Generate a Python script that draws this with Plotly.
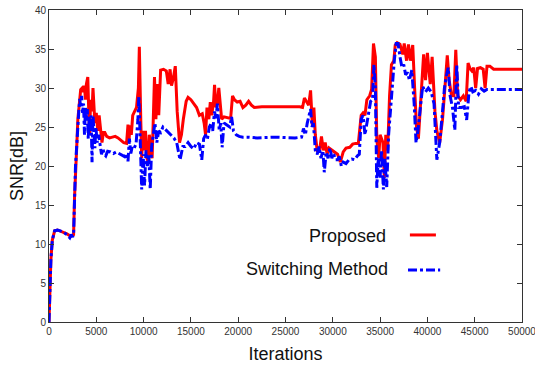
import plotly.graph_objects as go

# Proposed (red)
prop_x = [0,100,200,350,600,900,1400,1900,2300,2600,2700,2800,2950,3050,3200,3350,3500,3650,3750,3850,3950,4100,4200,4300,4400,4550,4650,4750,4850,5000,5150,5300,5450,5600,5750,5900,6100,6400,6700,7000,7300,7600,7900,8200,8350,8450,8550,8700,8850,9050,9250,9450,9550,9700,9800,9900,10050,10200,10350,10500,10600,10750,10900,11000,11150,11300,11450,11600,11800,12100,12400,12600,12800,12950,13150,13350,13550,13800,14000,14200,14500,14700,15000,15300,15600,15900,16200,16400,16550,16700,16900,17050,17200,17400,17500,17650,17800,17950,18100,18250,18500,18900,19200,19400,19600,19900,20200,20500,20800,21100,21400,21700,22500,24000,25500,26500,26800,27000,27200,27450,27650,27850,28000,28150,28350,28600,28800,29000,29200,29400,29600,29900,30200,30500,30800,31100,31400,31800,32100,32400,32700,33000,33200,33400,33600,33900,34100,34300,34500,34650,34850,35000,35300,35450,35600,35800,36000,36200,36450,36600,36800,37100,37400,37550,37800,38000,38200,38450,38650,38850,39050,39350,39600,39800,40000,40300,40500,40800,41000,41300,41600,41850,42100,42300,42550,42800,43000,43200,43500,43800,44100,44300,44500,44700,44900,45100,45300,45600,45900,46100,46300,46600,47000,50000]
prop_y = [0,4,8,10.5,11.7,11.8,11.6,11.3,11.0,11.2,16,20,23,26,28,29.8,30,29.5,30.3,28.5,30.5,31.4,27,24,28.5,27,30,27,25.5,26.8,24.5,26.5,24.2,23,24.3,24.3,23.8,23.6,23.7,23.8,23.6,23.3,23.0,22.9,25.3,23,25.2,24,26.5,27,27.5,30,35.3,26,21,24.5,22,24.5,21,20.5,24,22.5,21,25,31.4,26,30.5,26.5,32.3,32.4,32.2,30.5,32.4,30.3,31.3,32.8,27,23,24,26,28.3,28.8,28.5,28,27.5,26.5,26.7,25.5,24,27.5,26,28.2,26.5,28.3,30.4,27.5,28,30,28.3,26,26.3,26.2,26.1,29,28.5,28.2,28.3,27.5,27.8,28.3,27.8,27.5,27.6,27.6,27.6,27.6,27.5,28.7,28.3,27.8,29.7,25,27.5,24,22,22,23.8,22,23,21.5,22.3,22,21.8,21.5,20.5,21.8,22.3,22.4,22.8,22.9,22.9,26.5,26.8,26.5,28.5,29,29.8,35.7,34,23.5,21,24,23,18.5,24,22,29,33,33.5,35.5,35.8,35.6,34.3,35.7,33.5,35.6,33.5,35.5,30,25,23.5,29,34.3,31,34.5,30.5,34,27,24.5,23,26,30,34.2,31,29,29,34.9,29,28.5,29,28.3,33.2,32.5,32.2,32.6,30,32.5,32.6,32.4,30,32.8,32.8,32.4,32.4]

# Switching Method (blue)
sw_x = [0,100,200,350,600,900,1400,1900,2200,2350,2500,2600,2700,2800,2950,3050,3150,3250,3350,3450,3550,3650,3750,3850,3950,4050,4150,4250,4350,4450,4550,4650,4750,4850,4950,5100,5250,5400,5550,5700,5850,6000,6200,6500,6800,7100,7400,7700,8000,8200,8350,8500,8650,8800,9000,9200,9400,9500,9650,9800,9950,10100,10250,10400,10550,10700,10850,11000,11200,11400,11600,11800,12050,12300,12600,12900,13200,13500,13850,14150,14400,14700,15000,15300,15600,15900,16150,16350,16550,16750,16950,17150,17300,17500,17650,17800,18000,18150,18300,18500,18800,19100,19300,19500,19800,20100,20500,21000,22000,24000,26000,26700,26900,27100,27300,27500,27650,27800,27950,28150,28350,28550,28750,28950,29100,29300,29500,29700,29900,30100,30300,30500,30700,30900,31100,31400,31700,32000,32300,32600,32800,33000,33200,33400,33600,33800,34000,34200,34350,34500,34650,34800,35000,35150,35350,35500,35700,35900,36100,36300,36500,36700,36900,37100,37300,37500,37700,37900,38100,38350,38600,38800,39000,39300,39500,39800,40100,40400,40700,41000,41300,41600,41800,42000,42200,42400,42650,42900,43100,43300,43600,43900,44150,44400,44600,44800,45100,45400,45700,46000,46300,46600,50000]
sw_y = [0,4,8,10.5,11.7,11.8,11.6,11.2,10.8,11.2,10.9,11.2,16,20,23,26,27,28.6,27.5,29,26.8,28,24,27.5,26,27.3,23.5,26.3,24.5,26.5,20.5,26.5,24.5,22.3,25,23,24,22.8,21.5,22.2,21.5,21.3,21.9,21.8,21.6,21.8,21.6,21.4,21.2,21.6,20.6,23.5,21.6,22.5,22.3,22.8,26,29,24,17,21.5,17.5,22,20,21.5,17,22.5,24,25.5,23,24.5,24.3,25,24.7,24.3,24,23.6,23,20.8,22.5,22.5,23,22.5,22.2,23,22.8,20.8,23.5,24,23.5,25,25.5,24.5,27,26,28,24.5,25.5,22.4,25.5,25.3,25,26.3,24.5,24,23.8,23.7,23.7,23.6,23.7,23.6,23.7,24.8,24,25.5,26.5,27.3,25,25.5,22,21.5,22.5,21,22,19.2,21.8,21,22.3,21,21.5,20.8,20.8,21.2,20,20.5,20.3,20.8,20.9,20.8,21.3,21.5,26,26.5,24,25.5,27,28.3,28.5,33,30,17.2,21,18.5,22,17,21,17.3,24,27,31,33.5,35.7,35.7,34,32.7,33,31.7,32,31,32.3,28,23,24.5,28,30.2,29.5,30,29.5,28,20.8,23,27,30,31.5,32.6,29,27.5,24.6,33,27.5,27.5,27.6,25.9,29.5,30.2,29.5,29.7,29.2,29.9,29.6,29.8,29.8,29.8]

x_ticks = [0,5000,10000,15000,20000,25000,30000,35000,40000,45000,50000]
y_ticks = [0,5,10,15,20,25,30,35,40]
legend_names = ["Proposed", "Switching Method"]

FONT = "Liberation Sans, Arial, sans-serif"

fig = go.Figure()
fig.add_trace(go.Scatter(x=prop_x, y=prop_y, mode="lines", name=legend_names[0],
                         line=dict(color="#ff0000", width=3), showlegend=False))
fig.add_trace(go.Scatter(x=sw_x, y=sw_y, mode="lines", name=legend_names[1],
                         line=dict(color="#0000ff", width=3, dash="dashdot"), showlegend=False))

axis_common = dict(showline=True, linecolor="#333", linewidth=1, mirror="allticks",
                   ticks="inside", ticklen=5, tickcolor="#333", showgrid=False, zeroline=False,
                   ticklabeloverflow="allow", automargin=False,
                   tickfont=dict(family=FONT, size=10, color="#333"))
fig.update_xaxes(range=[0, 50000], tickvals=x_ticks, ticktext=[str(v) for v in x_ticks],
                 title=dict(text="Iterations", font=dict(family=FONT, size=18, color="#111"), standoff=11),
                 **axis_common)
fig.update_yaxes(range=[0, 40], tickvals=y_ticks,
                 title=dict(text="SNR[dB]", font=dict(family=FONT, size=18, color="#111"), standoff=6),
                 **axis_common)

# Legend drawn manually (text left of line sample)
fig.add_annotation(x=0.717, y=0.276, xref="paper", yref="paper", text=legend_names[0],
                   showarrow=False, xanchor="right", yanchor="middle",
                   font=dict(family=FONT, size=18, color="#111"))
fig.add_annotation(x=0.721, y=0.170, xref="paper", yref="paper", text=legend_names[1],
                   showarrow=False, xanchor="right", yanchor="middle",
                   font=dict(family=FONT, size=18, color="#111"))
fig.add_shape(type="line", xref="paper", yref="paper", x0=0.763, x1=0.818, y0=0.279, y1=0.279,
              line=dict(color="#ff0000", width=3))
fig.add_shape(type="line", xref="paper", yref="paper", x0=0.759, x1=0.827, y0=0.167, y1=0.167,
              line=dict(color="#0000ff", width=3, dash="dashdot"))

fig.update_layout(width=535, height=366, margin=dict(l=49, r=13, t=10, b=44),
                  paper_bgcolor="white", plot_bgcolor="white", showlegend=False)
fig.write_html("out.html")
